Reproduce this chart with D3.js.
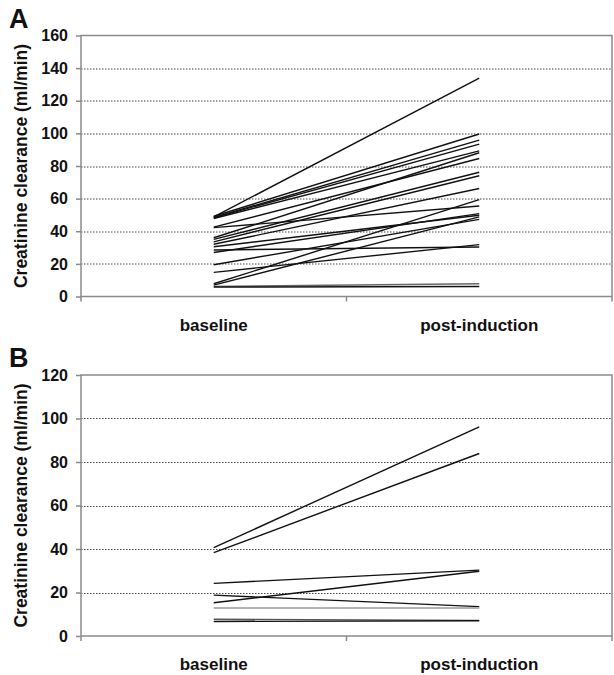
<!DOCTYPE html>
<html>
<head>
<meta charset="utf-8">
<script src="https://cdn.jsdelivr.net/npm/d3@7"></script>
<style>
  body { margin: 0; background: #fff; }
  svg text { font-family: "Liberation Sans", Arial, sans-serif; font-weight: bold; fill: #111; }
  .grid-line { stroke: #444; stroke-width: 1; stroke-dasharray: 1.5, 1.5; }
  .frame { stroke: #8a8a8a; stroke-width: 1.5; fill: none; }
</style>
</head>
<body>
<svg id="chart"></svg>
<script>
const CATEGORIES = ["baseline", "post-induction"];

// Panel A: creatinine clearance per patient (ml/min)
const PANEL_A_BASELINE = [48.8, 49.2, 48.5, 48.2, 47.8, 42.5, 36, 42.2, 35, 33.5, 32, 27, 30.5, 28.5, 19.5, 14.8, 7.8, 7, 6.2, 5.8];
const PANEL_A_POST = [133.8, 99.6, 95.9, 93.4, 89.3, 84.6, 88.1, 55.5, 76.2, 74, 66.2, 50.8, 49.8, 30.3, 47.3, 31.8, 59.4, 48.8, 7.8, 6.1];
const PANEL_A_TICKS = [0, 20, 40, 60, 80, 100, 120, 140, 160];

// Panel B
const PANEL_B_BASELINE = [40.6, 38.3, 24.2, 15.3, 18.8, 12.9, 7.7, 6.7];
const PANEL_B_POST = [96.2, 83.9, 30.3, 29.8, 13.5, 12.9, 7.2, 7.0];
const PANEL_B_TICKS = [0, 20, 40, 60, 80, 100, 120];

const Y_TITLE = "Creatinine clearance (ml/min)";

class PairedLineChart {
  constructor(_config, _baseline, _post, _ticks) {
    this.config = {
      svg: _config.svg,
      label: _config.label,
      top: _config.top,
      left: 81,
      width: 531,
      height: 261,
      grayLines: _config.grayLines || {},
    };
    this.baseline = _baseline;
    this.post = _post;
    this.ticks = _ticks;
    this.initVis();
  }

  initVis() {
    let vis = this;

    vis.chart = vis.config.svg
      .append("g")
      .attr("transform", `translate(${vis.config.left}, ${vis.config.top})`);

    vis.xScale = d3.scaleBand().domain(CATEGORIES).range([0, vis.config.width]);
    vis.yScale = d3
      .scaleLinear()
      .domain([0, d3.max(vis.ticks)])
      .range([vis.config.height, 0]);

    vis.data = vis.baseline.map((b, i) => ({ i, values: [b, vis.post[i]] }));

    vis.line = d3
      .line()
      .x((d, j) => vis.xScale(CATEGORIES[j]) + vis.xScale.bandwidth() / 2)
      .y((d) => vis.yScale(d));

    vis.renderVis();
  }

  renderVis() {
    let vis = this;
    const w = vis.config.width;
    const h = vis.config.height;
    const maxTick = d3.max(vis.ticks);

    // dotted gridlines
    vis.chart
      .selectAll(".grid-line")
      .data(vis.ticks.filter((t) => t > 0 && t < maxTick))
      .join("line")
      .attr("class", "grid-line")
      .attr("x1", 0)
      .attr("x2", w)
      .attr("y1", (d) => Math.round(vis.yScale(d)) + 0.5)
      .attr("y2", (d) => Math.round(vis.yScale(d)) + 0.5);

    // plot frame
    vis.chart
      .append("rect")
      .attr("class", "frame")
      .attr("x", 0)
      .attr("y", vis.yScale(maxTick))
      .attr("width", w)
      .attr("height", h);

    // y axis
    const yAxis = d3
      .axisLeft(vis.yScale)
      .tickValues(vis.ticks)
      .tickSize(5)
      .tickPadding(8);
    vis.chart
      .append("g")
      .call(yAxis)
      .call((g) => g.select(".domain").remove())
      .call((g) => g.selectAll(".tick line").attr("stroke", "#8a8a8a").attr("stroke-width", 1.5))
      .call((g) => g.selectAll("text").style("font-size", "16px"));

    // x axis: labels centred in bands, ticks at band edges
    const xAxis = d3.axisBottom(vis.xScale).tickSize(0).tickPadding(22);
    vis.chart
      .append("g")
      .attr("transform", `translate(0, ${h})`)
      .call(xAxis)
      .call((g) => g.select(".domain").remove())
      .call((g) => g.selectAll("text").style("font-size", "17px"));

    const edges = [0, ...CATEGORIES.map((c) => vis.xScale(c) + vis.xScale.bandwidth())];
    vis.chart
      .selectAll(".x-edge")
      .data(edges)
      .join("line")
      .attr("class", "x-edge")
      .attr("x1", (d) => d)
      .attr("x2", (d) => d)
      .attr("y1", h)
      .attr("y2", h + 5)
      .attr("stroke", "#8a8a8a")
      .attr("stroke-width", 1.5);

    // patient lines
    vis.chart
      .selectAll(".patient")
      .data(vis.data)
      .join("path")
      .attr("class", "patient")
      .attr("fill", "none")
      .attr("stroke", (d) => vis.config.grayLines[d.i] || "#111")
      .attr("stroke-width", 1.4)
      .attr("d", (d) => vis.line(d.values));

    // y title
    vis.chart
      .append("text")
      .attr("transform", `translate(${27 - vis.config.left}, ${h / 2}) rotate(-90)`)
      .style("text-anchor", "middle")
      .style("font-size", "17.5px")
      .text(Y_TITLE);

    // panel letter
    vis.chart
      .append("text")
      .attr("x", 9 - vis.config.left)
      .attr("y", -8)
      .style("font-size", "27px")
      .text(vis.config.label);
  }
}

const svg = d3.select("#chart").attr("width", 614).attr("height", 675);

new PairedLineChart(
  { svg: svg, label: "A", top: 35.5, grayLines: { 18: "#666" } },
  PANEL_A_BASELINE,
  PANEL_A_POST,
  PANEL_A_TICKS
);

new PairedLineChart(
  { svg: svg, label: "B", top: 375, grayLines: { 5: "#9a9a9a", 6: "#555" } },
  PANEL_B_BASELINE,
  PANEL_B_POST,
  PANEL_B_TICKS
);
</script>
</body>
</html>
